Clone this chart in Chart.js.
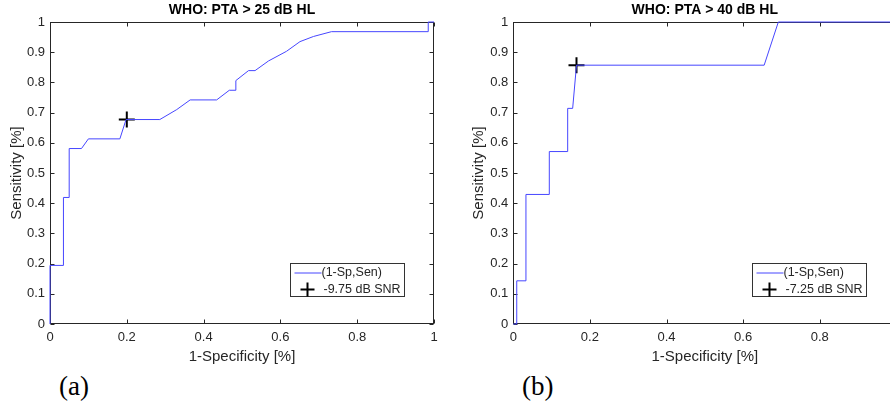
<!DOCTYPE html>
<html>
<head>
<meta charset="utf-8">
<script src="https://cdn.jsdelivr.net/npm/chart.js@4.4.1/dist/chart.umd.min.js"></script>
<style>
    html, body { margin: 0; padding: 0; background: #fff; width: 890px; height: 405px; overflow: hidden; }
    canvas { position: absolute; top: 0; }
    #chartA { left: 0; }
    #chartB { left: 445px; }
    .panel { position: absolute; top: 371px; font-family: 'Liberation Serif', 'Times New Roman', serif; font-size: 27px; color: #000; }
</style>
</head>
<body>
<canvas id="chartA" width="445" height="370"></canvas>
<canvas id="chartB" width="462" height="370"></canvas>
<div class="panel" style="left:59px">(a)</div>
<div class="panel" style="left:522px">(b)</div>
<script>
// ROC curve (a): WHO PTA > 25 dB HL
const fprA = [0, 0, 0.035, 0.035, 0.050, 0.050, 0.082, 0.100, 0.182, 0.198, 0.286, 0.330, 0.365, 0.434, 0.467, 0.484, 0.484, 0.517, 0.534, 0.569, 0.616, 0.651, 0.686, 0.733, 0.985, 0.985, 1.0];
const tprA = [0, 0.194, 0.194, 0.419, 0.419, 0.581, 0.581, 0.613, 0.613, 0.677, 0.677, 0.710, 0.742, 0.742, 0.774, 0.774, 0.806, 0.839, 0.839, 0.871, 0.903, 0.935, 0.952, 0.968, 0.968, 1.0, 1.0];
const cutA = [0.200, 0.677];

// ROC curve (b): WHO PTA > 40 dB HL
const fprB = [0, 0.009, 0.009, 0.033, 0.033, 0.094, 0.094, 0.142, 0.142, 0.155, 0.165, 0.655, 0.692, 1.0];
const tprB = [0, 0, 0.143, 0.143, 0.429, 0.429, 0.571, 0.571, 0.714, 0.714, 0.857, 0.857, 1.0, 1.0];
const cutB = [0.165, 0.857];

const xTicks = [0, 0.2, 0.4, 0.6, 0.8, 1];
const yTicks = [0, 0.1, 0.2, 0.3, 0.4, 0.5, 0.6, 0.7, 0.8, 0.9, 1];

const axisColor = '#262626';
const lineColor = '#4646ff';
const fontFamily = 'Helvetica, "Liberation Sans", Arial, sans-serif';

// matlab style box with inward ticks (under the curve) + legend inside the axes (on top)
const matlabBox = {
    id: 'matlabBox',
    beforeDatasetsDraw(chart) {
        const ctx = chart.ctx;
        const a = chart.chartArea;
        const x = chart.scales.x;
        const y = chart.scales.y;
        const l = Math.round(a.left) + 0.5, r = Math.round(a.right) - 0.5;
        const t = Math.round(a.top) + 0.5, b = Math.round(a.bottom) - 0.5;
        ctx.save();
        ctx.strokeStyle = axisColor;
        ctx.lineWidth = 1;
        ctx.strokeRect(l, t, r - l, b - t);
        ctx.beginPath();
        xTicks.forEach(v => {
            const px = Math.round(x.getPixelForValue(v)) + 0.5;
            ctx.moveTo(px, b); ctx.lineTo(px, b - 4);
            ctx.moveTo(px, t); ctx.lineTo(px, t + 4);
        });
        yTicks.forEach(v => {
            const py = Math.round(y.getPixelForValue(v)) + 0.5;
            ctx.moveTo(l, py); ctx.lineTo(l + 4, py);
            ctx.moveTo(r, py); ctx.lineTo(r - 4, py);
        });
        ctx.stroke();
        ctx.restore();
    },
    afterDatasetsDraw(chart, args, opts) {
        const ctx = chart.ctx;
        const a = chart.chartArea;
        const w = 114, h = 33;
        const lx = Math.round(a.right - 30 - w) + 0.5;
        const ly = Math.round(a.bottom - 28 - h) + 0.5;
        ctx.save();
        ctx.fillStyle = '#fff';
        ctx.fillRect(lx, ly, w, h);
        ctx.strokeStyle = '#333';
        ctx.lineWidth = 1;
        ctx.strokeRect(lx, ly, w, h);
        ctx.strokeStyle = lineColor;
        ctx.beginPath();
        ctx.moveTo(lx + 4, ly + 9.5); ctx.lineTo(lx + 31, ly + 9.5);
        ctx.stroke();
        ctx.strokeStyle = '#000';
        ctx.lineWidth = 2;
        ctx.beginPath();
        ctx.moveTo(lx + 10, ly + 26); ctx.lineTo(lx + 24, ly + 26);
        ctx.moveTo(lx + 17, ly + 19); ctx.lineTo(lx + 17, ly + 33);
        ctx.stroke();
        ctx.fillStyle = '#262626';
        ctx.font = '12.5px ' + fontFamily;
        ctx.textBaseline = 'middle';
        ctx.fillText(opts.lineLabel, lx + 31, ly + 9.5);
        ctx.fillText(opts.markLabel, lx + 33, ly + 26);
        ctx.restore();
    }
};

function makeRoc(id, title, fpr, tpr, cut, cutLabel, pad, yWidth) {
    const pts = fpr.map((v, i) => ({x: v, y: tpr[i]}));
    return new Chart(document.getElementById(id), {
        type: 'scatter',
        data: {
            datasets: [{
                label: '(1-Sp,Sen)',
                data: pts,
                showLine: true,
                borderColor: lineColor,
                borderWidth: 1,
                pointRadius: 0,
                tension: 0,
                clip: false
            }, {
                label: cutLabel,
                data: [{x: cut[0], y: cut[1]}],
                pointStyle: 'cross',
                pointRadius: 8,
                borderColor: '#000',
                borderWidth: 2,
                clip: false
            }]
        },
        options: {
            responsive: false,
            animation: false,
            events: [],
            layout: { padding: pad },
            plugins: {
                legend: { display: false },
                tooltip: { enabled: false },
                title: {
                    display: true,
                    text: title,
                    fullSize: false,
                    color: '#000',
                    font: { family: fontFamily, size: 14, weight: 'bold' },
                    padding: { top: 2, bottom: 3.2 }
                },
                matlabBox: { lineLabel: '(1-Sp,Sen)', markLabel: cutLabel }
            },
            scales: {
                x: {
                    type: 'linear',
                    min: 0,
                    max: 1,
                    afterBuildTicks: s => { s.ticks = xTicks.map(v => ({value: v})); },
                    afterFit: s => { s.height = 46; },
                    grid: { display: false, drawTicks: false },
                    border: { display: false },
                    ticks: {
                        color: axisColor,
                        padding: 6,
                        maxRotation: 0,
                        font: { family: fontFamily, size: 13 },
                        callback: v => String(v)
                    },
                    title: {
                        display: true,
                        text: '1-Specificity [%]',
                        color: axisColor,
                        font: { family: fontFamily, size: 15 },
                        padding: { top: 0, bottom: 4 }
                    }
                },
                y: {
                    type: 'linear',
                    min: 0,
                    max: 1,
                    afterBuildTicks: s => { s.ticks = yTicks.map(v => ({value: v})); },
                    afterFit: s => { s.width = yWidth; },
                    grid: { display: false, drawTicks: false },
                    border: { display: false },
                    ticks: {
                        color: axisColor,
                        padding: 5,
                        font: { family: fontFamily, size: 13 },
                        callback: v => String(v)
                    },
                    title: {
                        display: true,
                        text: 'Sensitivity [%]',
                        color: axisColor,
                        font: { family: fontFamily, size: 15 },
                        padding: { top: 4, bottom: 0 }
                    }
                }
            }
        },
        plugins: [matlabBox]
    });
}

makeRoc('chartA', 'WHO: PTA > 25 dB HL', fprA, tprA, cutA, '-9.75 dB SNR',
    { left: 4, right: 11, top: 0, bottom: 0 }, 46);
makeRoc('chartB', 'WHO: PTA > 40 dB HL', fprB, tprB, cutB, '-7.25 dB SNR',
    { left: 21, right: 10.7, top: 0, bottom: 0 }, 47.3);
</script>
</body>
</html>
